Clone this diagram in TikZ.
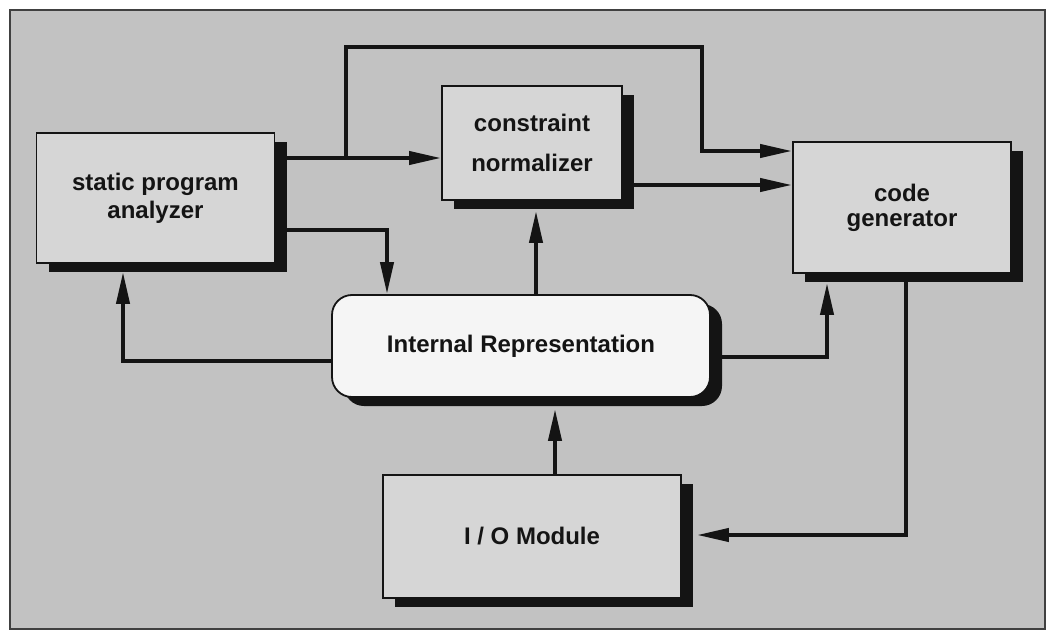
\documentclass[tikz,border=0pt]{standalone}
\usepackage{fontspec}
\setmainfont{Liberation Sans}
\usetikzlibrary{arrows.meta,shadows,calc}
\definecolor{paper}{gray}{0.76}
\definecolor{boxfill}{gray}{0.84}
\definecolor{repfill}{gray}{0.96}
\definecolor{ink}{gray}{0.08}

\begin{document}
\begin{tikzpicture}[x=1pt,y=-1pt,
  blockbase/.style={draw=ink, line width=1.8pt, align=center, inner sep=0pt,
    font=\bfseries\fontsize{24}{28}\selectfont, text=ink,
    drop shadow={shadow xshift=12pt, shadow yshift=-9pt, fill=ink, opacity=1}},
  block/.style={blockbase, rectangle, fill=boxfill},
  repbox/.style={blockbase, rectangle, rounded corners=20pt, fill=repfill},
  flow/.style={draw=ink, line width=4pt, -{Triangle[length=32pt,width=13pt]}},
]
% page and framed panel
\fill[white] (0,0) rectangle (1055,634);
\useasboundingbox (0,0) rectangle (1055,634);
\draw[draw=black!75, line width=1.5pt, fill=paper] (10,10) rectangle (1045,629);

% components
\node[block, minimum width=238pt, minimum height=130pt] (spa) at (155.5,198)
  {static program\\analyzer};
\node[block, minimum width=180pt, minimum height=114pt,
  font=\bfseries\fontsize{24}{40}\selectfont] (cn) at (532,143)
  {constraint\\normalizer};
\node[block, minimum width=218pt, minimum height=131pt,
  font=\bfseries\fontsize{24}{25}\selectfont] (cg) at (902,207.5)
  {code\\generator};
\node[repbox, minimum width=378pt, minimum height=102pt] (ir) at (521,346)
  {Internal Representation};
\node[block, minimum width=298pt, minimum height=123pt] (io) at (532,536.5)
  {I / O Module};

% data flow
\coordinate (split) at (345.5,158);
\draw[flow] (spa.east |- split) -- (cn.west |- split);
\draw[flow] (split) -- (345.5,47) -- (702,47) -- (702,151) -- (cg.west |- 0,151);
\draw[flow] (cn.east |- 0,185) -- (cg.west |- 0,185);
\draw[flow] (spa.east |- 0,230) -| (ir.north -| 387,0);
\draw[flow] (ir.west |- 0,361) -| ($(spa.south -| 123,0)+(0,8)$);
\draw[flow] (ir.north -| 536,0) -- ($(cn.south -| 536,0)+(0,10)$);
\draw[flow] (ir.east |- 0,357) -| ($(cg.south -| 827,0)+(0,9)$);
\draw[flow] (io.north -| 555,0) -- ($(ir.south -| 555,0)+(0,11)$);
\draw[flow] (cg.south -| 906,0) |- ($(io.east |- 0,535)+(15,0)$);
\end{tikzpicture}
\end{document}
